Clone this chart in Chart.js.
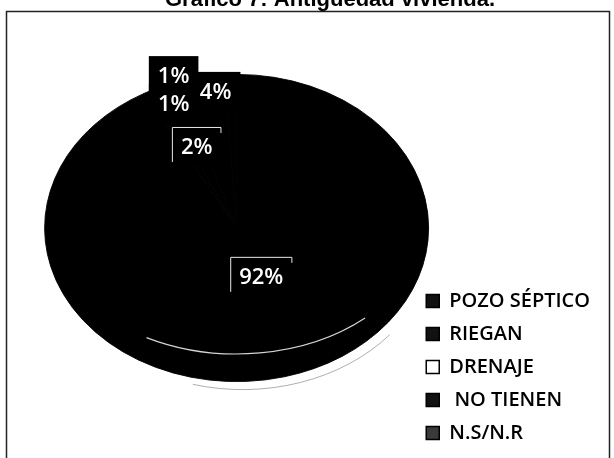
<!DOCTYPE html>
<html>
<head>
<meta charset="utf-8">
<script src="https://cdn.jsdelivr.net/npm/chart.js@4.4.1/dist/chart.umd.min.js"></script>
<style>
  html, body { margin: 0; padding: 0; background: #fff; }
  #wrap { position: relative; width: 614px; height: 458px; }
</style>
</head>
<body>
<div id="wrap"><canvas id="c" width="614" height="458"></canvas></div>
<script>
// ---- data ----
const categories = ['POZO SÉPTICO', 'RIEGAN', 'DRENAJE', ' NO TIENEN', 'N.S/N.R'];
const percentages = [92, 1, 2, 4, 1];
const titleText = 'Gráfico 7: Antigüedad vivienda.';

// ---- styles ----
const sliceColors = ['#000000', '#000000', '#000000', '#000000', '#000000'];
const legendFills = ['#111111', '#111111', '#ffffff', '#111111', '#3a3a3a'];
// label placement: fraction of radius and angle nudge (degrees) per slice
const labelPlacement = [
  { r: 0.34, dA: -7.8, outline: true },
  { r: 0.875, dA: 5, outline: false },
  { r: 0.57, dA: 0.2, outline: true },
  { r: 0.896, dA: 3.8, outline: false },
  { r: 1.045, dA: -16.5, outline: false }
];
const TILT = 0.8;

const framePlugin = {
  id: 'frame',
  beforeDraw(chart) {
    const ctx = chart.ctx;
    ctx.save();
    ctx.strokeStyle = '#222';
    ctx.lineWidth = 1.5;
    ctx.beginPath();
    ctx.moveTo(6.5, 470);
    ctx.lineTo(6.5, 11.5);
    ctx.lineTo(609.5, 11.5);
    ctx.lineTo(609.5, 470);
    ctx.stroke();
    ctx.restore();
  }
};

const tiltPlugin = {
  id: 'tilt',
  beforeDatasetsDraw(chart) {
    const arc = chart.getDatasetMeta(0).data[0];
    const ctx = chart.ctx;
    ctx.save();
    ctx.translate(0, arc.y);
    ctx.scale(1, TILT);
    ctx.translate(0, -arc.y);
  },
  afterDatasetsDraw(chart) {
    const ctx = chart.ctx;
    ctx.restore();
    // 3D rim highlight: lower edge of the top face
    const arc = chart.getDatasetMeta(0).data[0];
    const R = arc.outerRadius;
    ctx.save();
    ctx.strokeStyle = 'rgba(235,235,235,0.9)';
    ctx.lineWidth = 1.2;
    ctx.beginPath();
    ctx.ellipse(arc.x, arc.y - R * 0.073, R, R * 0.729, 0,
      48 * Math.PI / 180, 118 * Math.PI / 180);
    ctx.stroke();
    // faint shadow under the pie
    ctx.strokeStyle = 'rgba(120,120,120,0.6)';
    ctx.lineWidth = 1;
    ctx.beginPath();
    ctx.ellipse(arc.x + 6, arc.y + 8, R, R * TILT, 0,
      40 * Math.PI / 180, 105 * Math.PI / 180);
    ctx.stroke();
    ctx.restore();
  }
};

const labelPlugin = {
  id: 'pctLabels',
  afterDraw(chart) {
    const ctx = chart.ctx;
    const meta = chart.getDatasetMeta(0);
    ctx.save();
    ctx.font = '600 22px "Open Sans"';
    ctx.textAlign = 'center';
    ctx.textBaseline = 'middle';
    meta.data.forEach((arc, i) => {
      const p = labelPlacement[i];
      const a = (arc.startAngle + arc.endAngle) / 2 + p.dA * Math.PI / 180;
      const rr = p.r * arc.outerRadius;
      const x = arc.x + Math.cos(a) * rr;
      const y = arc.y + Math.sin(a) * rr * TILT;
      const txt = percentages[i] + '%';
      const w = ctx.measureText(txt).width;
      const bw = w + 18, bh = 39;
      const bx = x - bw / 2, by = y - bh / 2;
      ctx.fillStyle = '#000';
      ctx.fillRect(bx, by, bw, bh);
      if (p.outline) {
        ctx.strokeStyle = '#e8e8e8';
        ctx.lineWidth = 1;
        ctx.beginPath();
        ctx.moveTo(bx + 0.5, by + bh - 4);
        ctx.lineTo(bx + 0.5, by + 0.5);
        ctx.lineTo(bx + bw - 0.5, by + 0.5);
        ctx.lineTo(bx + bw - 0.5, by + 6);
        ctx.stroke();
      }
      ctx.fillStyle = '#fff';
      ctx.fillText(txt, x, y + 1);
    });
    ctx.restore();
  }
};

new Chart(document.getElementById('c'), {
  type: 'pie',
  data: {
    labels: categories,
    datasets: [{
      data: percentages,
      backgroundColor: sliceColors,
      borderColor: '#000',
      borderWidth: 1,
      radius: 192
    }]
  },
  options: {
    responsive: false,
    animation: false,
    layout: { padding: { top: -30, left: 60, right: 14, bottom: 2 } },
    plugins: {
      title: {
        display: true,
        text: titleText,
        color: '#000',
        font: { family: 'Liberation Sans', size: 22, weight: 'bold' },
        padding: { top: 13.2, bottom: -13.6 }
      },
      legend: {
        position: 'right',
        align: 'end',
        labels: {
          color: '#000',
          font: { family: 'Open Sans', size: 20, weight: '600' },
          boxWidth: 13,
          boxHeight: 13,
          padding: 13,
          generateLabels(chart) {
            return categories.map((c, i) => ({
              text: c,
              fillStyle: legendFills[i],
              strokeStyle: '#000',
              lineWidth: 1.5,
              hidden: false,
              index: i
            }));
          }
        }
      },
      tooltip: { enabled: false }
    }
  },
  plugins: [framePlugin, tiltPlugin, labelPlugin]
});
</script>
</body>
</html>
